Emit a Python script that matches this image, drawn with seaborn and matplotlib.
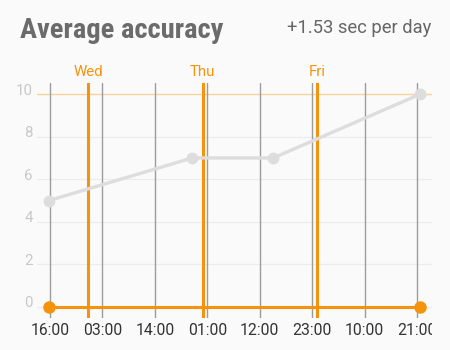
import matplotlib
matplotlib.use("Agg")
import matplotlib.pyplot as plt
import seaborn as sns
import pandas as pd
from matplotlib.transforms import Bbox, TransformedBbox, ScaledTranslation

# ---- data (hours since Tue 16:00) ----
tick_hours = [0, 11, 22, 33, 44, 55, 66, 77]
tick_labels = ["16:00", "03:00", "14:00", "01:00", "12:00", "23:00", "10:00", "21:00"]
day_hours = [8, 32, 56]
day_labels = ["Wed", "Thu", "Fri"]
acc_hours = [-0.2, 29.86, 46.86, 77.7]
acc_values = [5, 7, 7, 10]
base_hours = [-0.2, 77.7]
base_values = [0, 0]
y_ticks = [0, 2, 4, 6, 8, 10]
threshold = 10

title = "Average accuracy"
subtitle = "+1.53 sec per day"

BG = "#fafafa"
ORANGE = "#f5930c"
LIGHT_ORANGE = "#f8d29c"
GRAY_LINE = "#dddddd"
VGRID = "#9c9c9c"
HGRID = "#ececec"

sns.set_theme(style="white")
plt.rcParams["font.family"] = ["Roboto", "DejaVu Sans"]

fig = plt.figure(figsize=(4.5, 3.5), dpi=100, facecolor=BG)
ax = fig.add_axes([37 / 450, 1 - 318 / 350, (432 - 37) / 450, (318 - 83) / 350])
ax.set_facecolor(BG)
for s in ax.spines.values():
    s.set_visible(False)

ax.set_xlim(-2.73, 80.15)
ax.set_ylim(-0.52, 10.52)

# horizontal grid
for y in y_ticks[:-1]:
    ax.axhline(y, color=HGRID, lw=0.9, zorder=0)
ax.axhline(threshold, color=LIGHT_ORANGE, lw=1.0, zorder=1)

# vertical time grid
for h in tick_hours:
    ax.axvline(h, color=VGRID, lw=1.0, zorder=1)

# day boundary lines
for h, lab in zip(day_hours, day_labels):
    ax.axvline(h, color=ORANGE, lw=2.2, zorder=2)
    ax.text(h, 1.015, lab, transform=ax.get_xaxis_transform(), ha="center",
            va="bottom", color=ORANGE, fontsize=10.8)

df_acc = pd.DataFrame({"h": acc_hours, "v": acc_values})
df_base = pd.DataFrame({"h": base_hours, "v": base_values})

sns.lineplot(data=df_acc, x="h", y="v", ax=ax, color=GRAY_LINE, lw=2.4,
             marker="o", markersize=8.5, markeredgewidth=0, zorder=3)
sns.lineplot(data=df_base, x="h", y="v", ax=ax, color=ORANGE, lw=2.2,
             marker="o", markersize=9, markeredgewidth=0, zorder=4)

ax.set_xlabel("")
ax.set_ylabel("")
ax.set_xticks(tick_hours)
ax.set_xticklabels(tick_labels)
ax.set_yticks(y_ticks)
ax.set_yticklabels([str(v) for v in y_ticks])
ax.tick_params(axis="x", length=0, pad=3.5, labelsize=11.3, labelcolor="#333333")
ax.tick_params(axis="y", length=0, pad=3, labelsize=10.8, labelcolor="#c8c8c8")

offset = ScaledTranslation(0, 5 / 100, fig.dpi_scale_trans)
for lab in ax.get_yticklabels():
    lab.set_transform(lab.get_transform() + offset)

clip = TransformedBbox(Bbox([[-1, -1], [1, 2]]), ax.transAxes)
for lab in ax.get_xticklabels():
    lab.set_clip_box(clip)
    lab.set_clip_on(True)

fig.text(20 / 450, 1 - 37.5 / 350, title, fontsize=20.5, fontweight="bold",
         color="#6b6b6b", ha="left", va="baseline",
         family=["Roboto Condensed", "Roboto", "DejaVu Sans"])
fig.text(431 / 450, 1 - 32.7 / 350, subtitle, fontsize=13.2, color="#666666",
         ha="right", va="baseline")

fig.savefig("out.png", dpi=100, facecolor=BG)
